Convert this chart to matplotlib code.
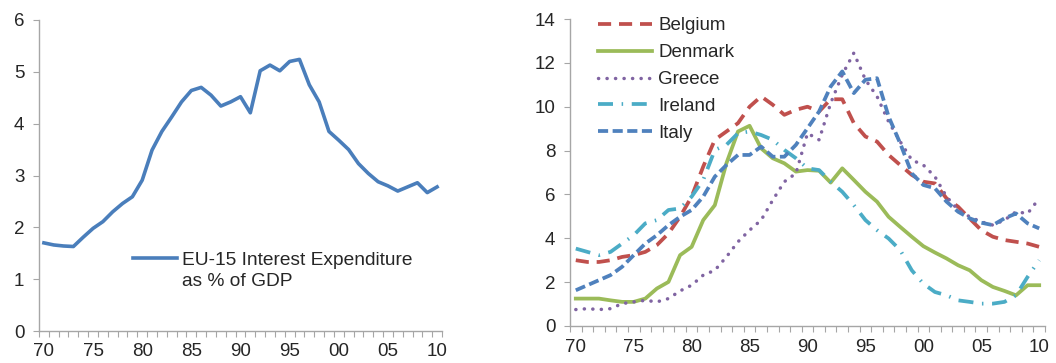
import numpy as np
import matplotlib
matplotlib.use("Agg")
import matplotlib.pyplot as plt
from matplotlib.ticker import FixedLocator

plt.rcParams['font.family'] = ['Liberation Sans', 'DejaVu Sans']

years = np.arange(1970, 2011)
tick_years = [1970, 1975, 1980, 1985, 1990, 1995, 2000, 2005, 2010]
tick_labels = ["70", "75", "80", "85", "90", "95", "00", "05", "10"]

# EU-15 interest expenditure, % of GDP
eu15 = [1.70, 1.66, 1.64, 1.63, 1.81, 1.98, 2.11, 2.30, 2.46, 2.59,
        2.91, 3.49, 3.85, 4.13, 4.42, 4.64, 4.70, 4.55, 4.34, 4.42,
        4.52, 4.21, 5.02, 5.13, 5.02, 5.20, 5.24, 4.75, 4.42, 3.85,
        3.68, 3.50, 3.23, 3.04, 2.88, 2.80, 2.70, 2.78, 2.86, 2.67,
        2.78]

belgium = [3.00, 2.92, 2.92, 3.00, 3.15, 3.23, 3.38, 3.69, 4.22, 4.98,
           5.90, 7.27, 8.49, 8.87, 9.25, 10.00, 10.47, 10.09, 9.63, 9.86,
           10.00, 9.78, 10.34, 10.34, 9.25, 8.64, 8.41, 7.80, 7.34, 6.89,
           6.58, 6.50, 5.82, 5.44, 4.90, 4.37, 4.07, 3.92, 3.84, 3.76,
           3.61]
denmark = [1.25, 1.25, 1.25, 1.17, 1.10, 1.10, 1.25, 1.71, 2.01, 3.23,
           3.61, 4.83, 5.51, 7.42, 8.87, 9.13, 8.10, 7.65, 7.42, 7.04,
           7.11, 7.08, 6.54, 7.19, 6.66, 6.12, 5.67, 4.98, 4.52, 4.07,
           3.64, 3.35, 3.08, 2.77, 2.54, 2.09, 1.78, 1.60, 1.40, 1.86,
           1.86]
greece = [0.75, 0.79, 0.75, 0.79, 1.02, 1.10, 1.17, 1.10, 1.25, 1.60,
          1.86, 2.32, 2.54, 3.15, 3.84, 4.37, 4.83, 5.74, 6.58, 6.96,
          8.79, 8.49, 10.16, 11.46, 12.45, 11.23, 10.47, 9.32, 8.41, 7.57,
          7.34, 6.81, 5.90, 5.29, 4.98, 4.75, 4.60, 4.83, 5.21, 5.13,
          5.82]
ireland = [3.53, 3.38, 3.23, 3.38, 3.76, 4.14, 4.68, 4.83, 5.29, 5.36,
           5.90, 6.66, 8.03, 8.26, 8.79, 8.87, 8.71, 8.49, 8.03, 7.65,
           7.19, 7.11, 6.58, 6.12, 5.51, 4.83, 4.37, 3.99, 3.46, 2.54,
           1.93, 1.55, 1.40, 1.17, 1.10, 1.02, 1.02, 1.10, 1.40, 2.24,
           3.00]
italy = [1.63, 1.86, 2.09, 2.32, 2.70, 3.23, 3.76, 4.14, 4.60, 4.98,
         5.29, 5.90, 6.81, 7.34, 7.80, 7.80, 8.18, 7.72, 7.72, 8.26,
         9.02, 9.78, 10.92, 11.61, 10.62, 11.23, 11.30, 9.55, 8.33, 6.96,
         6.43, 6.28, 5.67, 5.21, 4.91, 4.71, 4.60, 4.91, 5.13, 4.68,
         4.45]

W, H = 1056, 363
fig = plt.figure(figsize=(W / 100, H / 100), dpi=100)


def px_axes(x0, y0, x1, y1):
    # pixel box (left, top, right, bottom) -> figure fraction
    return fig.add_axes([x0 / W, 1 - y1 / H, (x1 - x0) / W, (y1 - y0) / H])


def style_axis(ax, ymax, ystep):
    spine_c = "#A6A6A6"
    for s in ("top", "right"):
        ax.spines[s].set_visible(False)
    for s in ("left", "bottom"):
        ax.spines[s].set_color(spine_c)
        ax.spines[s].set_linewidth(1.0)
    ax.set_xlim(1969.5, 2010.5)
    ax.set_ylim(0, ymax)
    ax.set_yticks(np.arange(0, ymax + 0.1, ystep))
    ax.set_xticks(tick_years)
    ax.set_xticklabels(tick_labels)
    ax.xaxis.set_minor_locator(FixedLocator(np.arange(1969.5, 2011, 1.0)))
    ax.tick_params(axis="x", which="major", length=0, pad=9,
                   labelsize=13.5, colors="#262626")
    ax.tick_params(axis="x", which="minor", length=4.5, width=0.8,
                   color=spine_c, direction="out")
    ax.tick_params(axis="y", length=4.5, width=0.8, color=spine_c,
                   pad=6, labelsize=13.5, labelcolor="#262626")


# ---- left panel ----
ax1 = px_axes(39, 20, 442, 331)
style_axis(ax1, 6, 1)
ax1.plot(years, eu15, color="#4A7EBB", lw=2.6, solid_joinstyle="round")
leg1 = fig.legend(["EU-15 Interest Expenditure"], loc="center left",
                  bbox_to_anchor=(133 / W, 1 - 260 / H), frameon=False,
                  fontsize=13.8, handlelength=2.3, handletextpad=0.25,
                  borderpad=0, borderaxespad=0)
fig.text(182 / W, 1 - 282 / H, "as % of GDP", fontsize=13.8,
         color="#262626", va="center", ha="left")
for t in leg1.get_texts():
    t.set_color("#262626")

# ---- right panel ----
ax2 = px_axes(570, 19, 1045, 326)
style_axis(ax2, 14, 2)
ax2.plot(years, belgium, color="#C0504D", lw=2.7, ls=(0, (3.5, 2.1)),
         label="Belgium")
ax2.plot(years, denmark, color="#9BBB59", lw=2.7, label="Denmark")
ax2.plot(years, greece, color="#8064A2", lw=2.5, ls=(0, (0.05, 2.4)),
         dash_capstyle="round", label="Greece")
ax2.plot(years, ireland, color="#4BACC6", lw=2.7,
         ls=(0, (4.0, 2.3, 0.4, 2.3)), label="Ireland")
ax2.plot(years, italy, color="#4F81BD", lw=2.7, ls=(0, (2.7, 1.2)),
         label="Italy")
leg2 = fig.legend(*ax2.get_legend_handles_labels(), loc="center left",
                  bbox_to_anchor=(598 / W, 1 - 79.5 / H), frameon=False,
                  fontsize=13.5, handlelength=2.9, handletextpad=0.3,
                  labelspacing=0.52, borderpad=0, borderaxespad=0)
for t in leg2.get_texts():
    t.set_color("#262626")

fig.savefig("out.png", dpi=100)
